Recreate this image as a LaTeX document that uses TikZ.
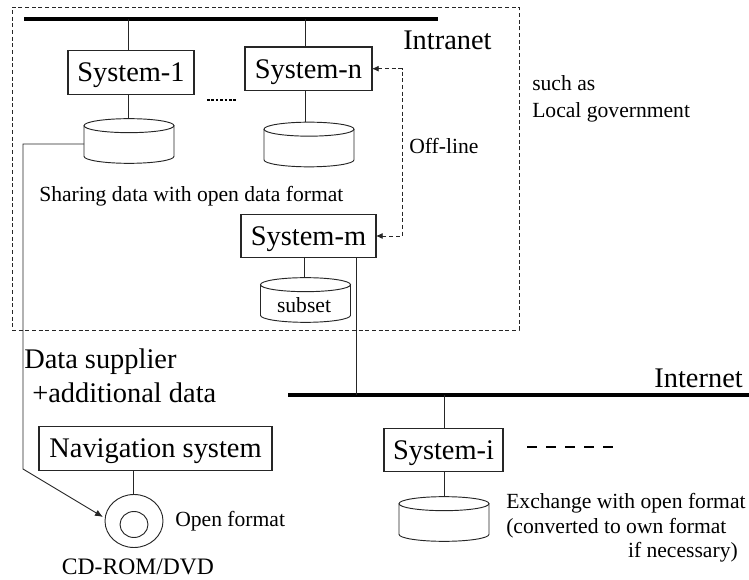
\documentclass[tikz,border=0pt]{standalone}
\usepackage{fontspec}
\setmainfont{Liberation Serif}
\usetikzlibrary{shapes.geometric,arrows.meta,calc}
\tikzset{
  x=0.75pt,y=-0.75pt,
  line/.style={draw=black!85,line width=0.7pt},
  sysbox/.style={draw=black!85,line width=0.8pt,inner sep=0pt,outer sep=0pt,minimum height=32.5pt,text height=14pt,text depth=0pt,font=\fontsize{21.3}{25}\selectfont},
  db/.style={inner sep=0pt,outer sep=0pt,minimum width=67.5pt,minimum height=33.5pt},
  bus/.style={fill=black,inner sep=0pt,outer sep=0pt,minimum height=2.4pt},
  big/.style={inner sep=0pt,anchor=base west,font=\fontsize{21.3}{25}\selectfont},
  small/.style={inner sep=0pt,anchor=base west,font=\fontsize{16.2}{19}\selectfont},
  off/.style={draw=black!85,line width=0.6pt,densely dashed,{Latex[length=5pt,width=4.5pt]}-{Latex[length=5pt,width=4.5pt]}},
}
\newcommand{\dbshape}[1]{%
  \draw[line] ($(#1.north)+(0,7)$) ellipse[x radius=33.75pt,y radius=5.25pt];
  \draw[line] ($(#1.north west)+(0,7)$) -- ($(#1.south west)+(0,-7)$)
     arc[start angle=180,end angle=360,x radius=33.75pt,y radius=5.25pt]
     -- ($(#1.north east)+(0,7)$);
}
\begin{document}
\begin{tikzpicture}
\useasboundingbox (0,0) rectangle (749,580);
\node[draw=black!85,densely dashed,line width=0.6pt,inner sep=0pt,minimum width=380.25pt,minimum height=242.25pt] (intranetzone) at (265.5,168.5) {};
\node[bus,minimum width=310.5pt] (intrabus) at (231,19) {};
\node[bus,minimum width=345.75pt] (interbus) at (518.5,395) {};
\node[sysbox,minimum width=94.5pt] (s1) at (131,72.5) {System-1};
\node[sysbox,minimum width=95.25pt] (sn) at (308.5,68.7) {System-n};
\node[sysbox,minimum width=101.25pt] (sm) at (308.5,236) {System-m};
\node[sysbox,minimum width=89.25pt] (si) at (443.5,450) {System-i};
\node[sysbox,minimum width=174.75pt] (nav) at (155.5,448.5) {Navigation system};
\node[db] (d1) at (129,141) {};
\node[db] (dn) at (309,144.5) {};
\node[db] (dm) at (305.5,300) {};
\node[db] (di) at (444,519) {};
\dbshape{d1}\dbshape{dn}\dbshape{dm}\dbshape{di}
\node[small,anchor=base] at (304,313) {subset};
\node[ellipse,draw=black!85,line width=0.7pt,inner sep=0pt,minimum width=43.5pt,minimum height=39.75pt] (cd) at (134,521) {};
\node[ellipse,draw=black!85,line width=0.7pt,inner sep=0pt,minimum width=21pt,minimum height=19.5pt] (cdin) at (134,524.5) {};
\coordinate (t1) at (128,19);
\coordinate (tn) at (305,19);
\coordinate (ti) at (444,395);
\coordinate (tm) at (356,395);
\coordinate (elbowA) at (23,144);
\coordinate (elbowB) at (23,469);
\coordinate (cdtip) at (103,517);
\coordinate (offcol) at (402,150);
\draw[line] (t1) -- (t1 |- s1.north);
\draw[line] (t1 |- s1.south) -- (t1 |- d1.north);
\draw[line] (tn) -- (tn |- sn.north);
\draw[line] (tn |- sn.south) -- (tn |- dn.north);
\draw[line] (304,257) -- (304,277);
\draw[line] (tm) -- (tm |- sm.south);
\draw[line] (ti) -- (ti |- si.north);
\draw[line] (ti |- si.south) -- (ti |- di.north);
\draw[line] (133,471) -- (133,494);
\draw[line,-{Latex[length=6pt,width=5pt]}] (d1.west |- elbowA) -- (elbowA) -- (elbowB) -- (cdtip);
\draw[off] (sn.east) -- (offcol |- sn.east) -- (offcol |- sm.east) -- (sm.east);
\draw[line width=1.3pt,dash pattern=on 2pt off 1.3pt] (207,100) -- (236,100);
\draw[line width=1.5pt,dash pattern=on 7.5pt off 6.75pt] (527,447) -- (613,447);
\node[big] at (403,50) {Intranet};
\node[small] (sa) at (532,91) {such as};
\node[small] at (532,118) {Local government};
\node[small] at (409,154) {Off-line};
\node[small] at (39,202) {Sharing data with open data format};
\node[big] at (24,369) {Data supplier};
\node[big] at (32,403) {+additional data};
\node[big,anchor=base east] at (743,388) {Internet};
\node[small] at (175,526) {Open format};
\node[inner sep=0pt,anchor=base,font=\fontsize{17.7}{20}\selectfont] at (138,574) {CD-ROM/DVD};
\node[small] at (506,508) {Exchange with open format};
\node[small] at (506,533) {(converted to own format};
\node[small,anchor=base east] at (738,557) {if necessary)};
\end{tikzpicture}
\end{document}
